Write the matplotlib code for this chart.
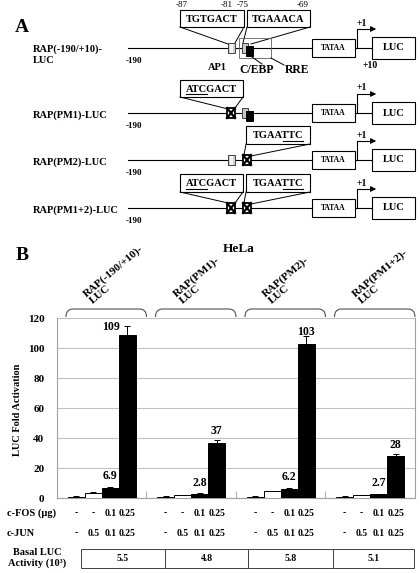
import numpy as np
import matplotlib
matplotlib.use('Agg')
import matplotlib.pyplot as plt
import matplotlib.transforms as mtransforms
from matplotlib.patches import Rectangle, PathPatch
from matplotlib.path import Path

plt.rcParams['font.family'] = ['Liberation Serif', 'DejaVu Serif']
plt.rcParams['font.weight'] = 'bold'

# ---- data ----
constructs = ['RAP(-190/+10)-\nLUC', 'RAP(PM1)-\nLUC', 'RAP(PM2)-\nLUC', 'RAP(PM1+2)-\nLUC']
fold_1 = [1, 3.5, 6.9, 109]
fold_2 = [1, 2.1, 2.8, 37]
fold_3 = [1, 4.7, 6.2, 103]
fold_4 = [1, 2.1, 2.7, 28]
err_1 = [0.1, 0.3, 0.4, 6]
err_2 = [0.1, 0.2, 0.3, 1.5]
err_3 = [0.1, 0.3, 0.3, 5]
err_4 = [0.1, 0.2, 0.2, 1.5]
shown_1 = ['', '', '6.9', '109']
shown_2 = ['', '', '2.8', '37']
shown_3 = ['', '', '6.2', '103']
shown_4 = ['', '', '2.7', '28']
fos = ['-', '-', '0.1', '0.25']
jun = ['-', '0.5', '0.1', '0.25']
basal = ['5.5', '4.8', '5.8', '5.1']
yticks = [0, 20, 40, 60, 80, 100, 120]

# panel A constructs
row_names = ['RAP(-190/+10)-\nLUC', 'RAP(PM1)-LUC', 'RAP(PM2)-LUC', 'RAP(PM1+2)-LUC']
ap1_mut = [False, True, False, True]
cebp_mut = [False, False, True, True]

folds = [fold_1, fold_2, fold_3, fold_4]
errs = [err_1, err_2, err_3, err_4]
shown = [shown_1, shown_2, shown_3, shown_4]

fig = plt.figure(figsize=(4.2, 5.73), dpi=100)
ov = fig.add_axes([0, 0, 1, 1])
ov.set_xlim(0, 420)
ov.set_ylim(573, 0)
ov.axis('off')
renderer = fig.canvas.get_renderer()


def seq_box(x0, x1, y0, y1, seq, ul=None):
    ov.add_patch(Rectangle((x0, y0), x1 - x0, y1 - y0, fc='white', ec='black', lw=0.8))
    cx, cy = (x0 + x1) / 2, (y0 + y1) / 2
    t = ov.text(cx, cy + 0.5, seq, ha='center', va='center', fontsize=7.5)
    if ul:
        fp = t.get_fontproperties()
        wfull = renderer.get_text_width_height_descent(seq, fp, ismath=False)[0]
        wa = renderer.get_text_width_height_descent(seq[:ul[0]], fp, ismath=False)[0] if ul[0] else 0
        wb = renderer.get_text_width_height_descent(seq[:ul[1]], fp, ismath=False)[0]
        s = cx - wfull / 2
        ov.plot([s + wa, s + wb], [cy + 5.5, cy + 5.5], color='black', lw=0.8)


def crossed(x0, y0, w=8, h=10):
    ov.add_patch(Rectangle((x0, y0), w, h, fc='white', ec='black', lw=1.3))
    ov.plot([x0, x0 + w], [y0, y0 + h], color='black', lw=1.6)
    ov.plot([x0, x0 + w], [y0 + h, y0], color='black', lw=1.6)


# ---- panel A ----
ov.text(22, 27, 'A', fontsize=14, ha='center', va='center')
line_y = [48, 113, 160, 208]
for r, ly in enumerate(line_y):
    if r == 0:
        ov.text(33, ly + 7, row_names[r], ha='left', va='center', fontsize=7.5, linespacing=1.3)
    else:
        ov.text(33, ly + 2, row_names[r], ha='left', va='center', fontsize=7.5)
    ov.text(134, ly + 13, '-190', ha='center', va='center', fontsize=6.5)
    ov.plot([128, 372], [ly, ly], color='black', lw=0.8, zorder=1)
    # AP1 site
    if ap1_mut[r]:
        crossed(227, ly - 5)
    else:
        ov.add_patch(Rectangle((228, ly - 5), 7, 10, fc='#d0d0d0', ec='#404040', lw=0.7, zorder=3))
        ov.add_patch(Rectangle((230, ly - 4.5), 3, 9, fc='#f4f4f4', ec='none', zorder=3))
    # C/EBP site
    if cebp_mut[r]:
        crossed(243, ly - 5)
    else:
        ov.add_patch(Rectangle((242, ly - 5), 6, 10, fc='#c8c8c8', ec='#404040', lw=0.7, zorder=3))
        ov.add_patch(Rectangle((246, ly - 2), 7, 10, fc='black', ec='black', lw=0.7, zorder=4))
    # TATAA, start site, LUC
    ov.add_patch(Rectangle((312, ly - 9), 43, 18, fc='white', ec='black', lw=0.8, zorder=3))
    ov.text(333.5, ly, 'TATAA', ha='center', va='center', fontsize=5.5, zorder=4)
    ov.plot([357, 357, 372], [ly, ly - 19, ly - 19], color='black', lw=0.8)
    ov.annotate('', xy=(379, ly - 19), xytext=(370, ly - 19),
                arrowprops=dict(arrowstyle='-|>', color='black', lw=0.8, mutation_scale=8))
    ov.text(362, ly - 25, '+1', ha='center', va='center', fontsize=7)
    ov.add_patch(Rectangle((372, ly - 11), 43, 22, fc='white', ec='black', lw=0.8, zorder=3))
    ov.text(393.5, ly, 'LUC', ha='center', va='center', fontsize=7.5, zorder=4)

# construct 1 details
ov.text(182, 5, '-87', ha='center', va='center', fontsize=6.5, fontweight='normal')
ov.text(227, 5, '-81', ha='center', va='center', fontsize=6.5, fontweight='normal')
ov.text(243, 5, '-75', ha='center', va='center', fontsize=6.5, fontweight='normal')
ov.text(303, 5, '-69', ha='center', va='center', fontsize=6.5, fontweight='normal')
seq_box(180, 244, 10, 27, 'TGTGACT')
seq_box(247, 310, 10, 27, 'TGAAACA')
ov.plot([180, 228], [27, 44], color='black', lw=0.7)
ov.plot([244, 235], [27, 43], color='black', lw=0.7)
ov.plot([247, 243], [27, 43], color='black', lw=0.7)
ov.plot([310, 251], [27, 44], color='black', lw=0.7)
ov.add_patch(Rectangle((239, 38), 32, 20, fc='none', ec='#606060', lw=0.6, zorder=2))
ov.plot([252, 262], [57, 64], color='black', lw=0.7)
ov.plot([271, 284], [58, 65], color='black', lw=0.7)
ov.text(217, 67, 'AP1', ha='center', va='center', fontsize=7.5)
ov.text(257, 70, 'C/EBP', ha='center', va='center', fontsize=8.5)
ov.text(297, 70, 'RRE', ha='center', va='center', fontsize=8.5)
ov.text(370, 65, '+10', ha='center', va='center', fontsize=7)

# construct 2
seq_box(180, 243, 80, 97, 'ATCGACT', ul=(0, 3))
ov.plot([180, 228], [97, 109], color='black', lw=0.7)
ov.plot([243, 235], [97, 108], color='black', lw=0.7)
# construct 3
seq_box(246, 310, 126, 144, 'TGAATTC', ul=(4, 7))
ov.plot([246, 244], [144, 155], color='black', lw=0.7)
ov.plot([310, 251], [144, 156], color='black', lw=0.7)
# construct 4
seq_box(180, 243, 174, 192, 'ATCGACT', ul=(0, 3))
seq_box(246, 310, 174, 192, 'TGAATTC', ul=(4, 7))
ov.plot([180, 228], [192, 203], color='black', lw=0.7)
ov.plot([243, 235], [192, 203], color='black', lw=0.7)
ov.plot([246, 244], [192, 203], color='black', lw=0.7)
ov.plot([310, 251], [192, 204], color='black', lw=0.7)

# ---- panel B ----
ov.text(22, 255, 'B', fontsize=14, ha='center', va='center')
ov.text(239, 249, 'HeLa', fontsize=9.5, ha='center', va='center')

ax = fig.add_axes([57 / 420, 1 - 498 / 573, 358 / 420, 180 / 573])
w = 0.19
colors = ['white', 'white', 'black', 'black']
for g in range(4):
    for i in range(4):
        x = g + (i - 1.5) * w
        ax.bar(x, folds[g][i], width=w, color=colors[i], edgecolor='black', lw=0.7, zorder=3)
        ax.errorbar(x, folds[g][i], yerr=errs[g][i], fmt='none', ecolor='black',
                    elinewidth=0.7, capsize=2.5, capthick=0.7, zorder=4)
        if shown[g][i]:
            if g == 0 and i == 3:
                ax.text(x - 0.18, folds[g][i] + 5, shown[g][i], ha='center', va='center', fontsize=8.5)
            else:
                ax.text(x, folds[g][i] + 7.5, shown[g][i], ha='center', va='center', fontsize=8.5)

ax.set_xlim(-0.5, 3.5)
ax.set_ylim(0, 120)
ax.set_yticks(yticks)
ax.set_yticklabels([str(v) for v in yticks], fontsize=8)
ax.tick_params(axis='y', length=0, pad=9)
ax.set_xticks([0.5, 1.5, 2.5])
ax.set_xticklabels([])
ax.tick_params(axis='x', direction='in', length=5, color='#b0b0b0')
ax.yaxis.grid(True, color='#c0c0c0', lw=0.8)
ax.set_axisbelow(True)
for s in ['left', 'bottom', 'right', 'top']:
    ax.spines[s].set_color('#a0a0a0')
    ax.spines[s].set_linewidth(0.8)
ax.spines['top'].set_visible(False)

ov.text(18, 410, 'LUC Fold Activation', rotation=90, ha='center', va='center', fontsize=7.5)

# construct labels and braces above the groups
trans = mtransforms.blended_transform_factory(ax.transData, ov.transData)
for g in range(4):
    ov.text(g - 0.085, 306, constructs[g], transform=trans, rotation=40, rotation_mode='anchor',
            ha='left', va='bottom', multialignment='left', fontsize=8, linespacing=1.1)
    x0, x1 = g - 0.4, g + 0.5
    verts = [(x0, 317), (x0, 309), (x0 + 0.08, 309), (x1 - 0.08, 309), (x1, 309), (x1, 317)]
    codes = [Path.MOVETO, Path.CURVE3, Path.CURVE3, Path.LINETO, Path.CURVE3, Path.CURVE3]
    ov.add_patch(PathPatch(Path(verts, codes), fc='none', ec='#505050', lw=0.8, transform=trans))

# treatment rows
ov.text(7, 513, 'c-FOS (\u00b5g)', ha='left', va='center', fontsize=7.5)
ov.text(7, 533, 'c-JUN', ha='left', va='center', fontsize=7.5)
for g in range(4):
    for i in range(4):
        x = g + (i - 1.5) * w
        ov.text(x, 513, fos[i], transform=trans, ha='center', va='center', fontsize=7)
        ov.text(x, 533, jun[i], transform=trans, ha='center', va='center', fontsize=7)

# basal activity table
ov.text(37, 558, 'Basal LUC\nActivity (10\u00b3)', ha='center', va='center', fontsize=7.5, linespacing=1.2)
edges = [81, 165, 248, 333, 414]
for k in range(4):
    ov.add_patch(Rectangle((edges[k], 549), edges[k + 1] - edges[k], 19, fc='white', ec='#404040', lw=0.7))
    ov.text((edges[k] + edges[k + 1]) / 2, 558.5, basal[k], ha='center', va='center', fontsize=7)

fig.savefig('out.png', dpi=100)
